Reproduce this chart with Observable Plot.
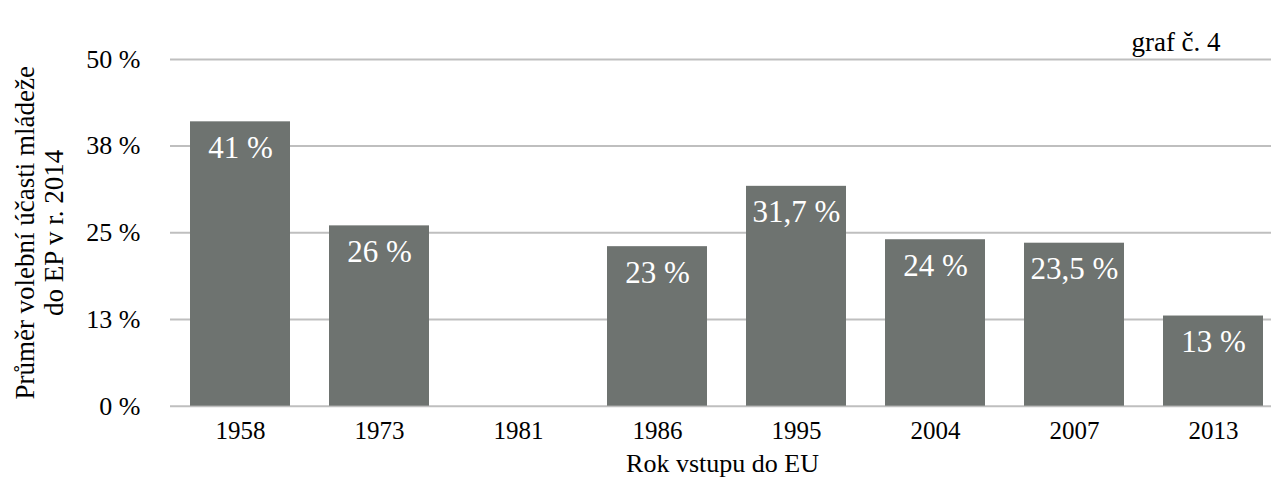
<!DOCTYPE html>
<html>
<head>
<meta charset="utf-8">
<script src="https://cdn.jsdelivr.net/npm/d3@7"></script>
<script src="https://cdn.jsdelivr.net/npm/@observablehq/plot@0.6"></script>
<style>
  html, body { margin: 0; padding: 0; background: #fff; }
  #chart svg { display: block; }
  #chart svg, #chart svg text { font-family: 'Liberation Serif', 'Times New Roman', serif !important; }
</style>
</head>
<body>
<div id="chart"></div>
<script>
const years = ["1958", "1973", "1981", "1986", "1995", "2004", "2007", "2013"];
const values = [41, 26, null, 23, 31.7, 24, 23.5, 13];
const valueLabels = ["41 %", "26 %", "", "23 %", "31,7 %", "24 %", "23,5 %", "13 %"];
const yTicks = [0, 12.5, 25, 37.5, 50];
const yTickLabels = ["0 %", "13 %", "25 %", "38 %", "50 %"];
const yTitle = "Průměr volební účasti mládeže\ndo EP v r. 2014";
const xTitle = "Rok vstupu do EU";
const chartNote = "graf č. 4";

const data = years.map((y, i) => ({year: y, value: values[i], label: valueLabels[i]}));
const bars = data.filter(d => d.value != null);

const font = "'Liberation Serif', 'Times New Roman', serif";
const W = 1271, H = 482;
const plotTop = 58.9, plotBottom = 405.7;

const chart = Plot.plot({
  width: W,
  height: H,
  marginLeft: 170,
  marginRight: 0,
  marginTop: plotTop,
  marginBottom: H - plotBottom,
  style: {fontFamily: font, background: "#fff", overflow: "visible"},
  x: {domain: years, range: [168.75, 1284.75], paddingInner: 0.28, paddingOuter: 0.14, align: 0.5},
  y: {domain: [0, 50], range: [plotBottom, plotTop]},
  marks: [
    Plot.gridY(yTicks, {stroke: "#bfbfbf", strokeOpacity: 1, strokeWidth: 2}),
    Plot.barY(bars, {x: "year", y: "value", fill: "#6e7370"}),
    Plot.ruleY([0], {x1: 167.5, x2: 1271, stroke: "#2b2b2b", strokeWidth: 2.5}),
    Plot.text(bars, {x: "year", y: "value", text: "label", fill: "#fff", fontSize: 31, fontFamily: font, dy: 26, textAnchor: "middle"}),
    Plot.axisY(yTicks, {tickSize: 0, tickPadding: 30, fontSize: 26, fontFamily: font, fill: "#000", label: null,
      tickFormat: (d) => yTickLabels[yTicks.indexOf(d)]}),
    Plot.axisX({tickSize: 0, tickPadding: 15, fontSize: 25, fontFamily: font, fill: "#000", label: null}),
    Plot.text([yTitle], {frameAnchor: "left", rotate: -90, dx: -131.5, fontSize: 27, lineHeight: 1.08, fontFamily: font, fill: "#000", textAnchor: "middle"}),
    Plot.text([xTitle], {frameAnchor: "bottom", dx: 1.5, dy: 66, fontSize: 26, fontFamily: font, fill: "#000", textAnchor: "middle"}),
    Plot.text([chartNote], {frameAnchor: "top-right", dx: -95.5, dy: -28, fontSize: 27, fontFamily: font, fill: "#000", textAnchor: "middle"})
  ]
});
document.getElementById("chart").appendChild(chart);
</script>
</body>
</html>
